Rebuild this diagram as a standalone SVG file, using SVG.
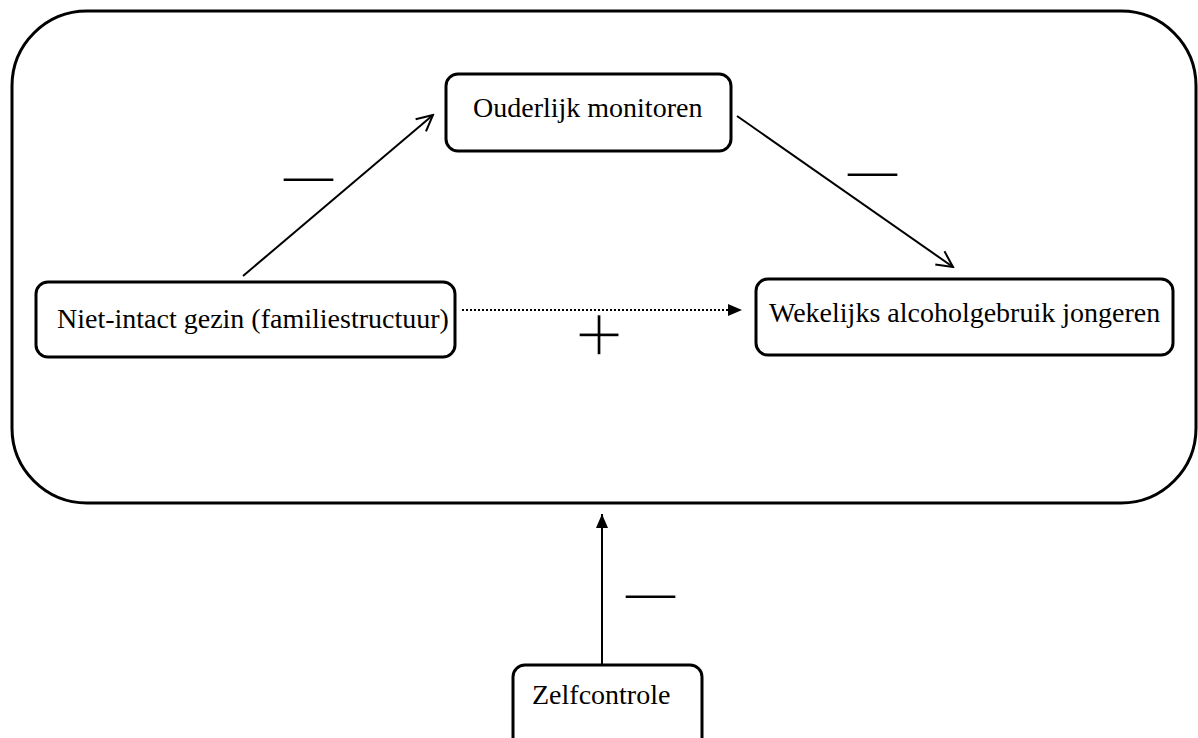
<svg xmlns="http://www.w3.org/2000/svg" width="1198" height="738" viewBox="0 0 1198 738">
<style>
.box{fill:#fff;stroke:#000;stroke-width:3}
.lbl{font-family:"Liberation Serif","Times New Roman",serif;font-size:28px;fill:#000}
.sign{font-family:"Liberation Serif","Times New Roman",serif;fill:#000}
.con{stroke:#000;stroke-width:2;fill:none}
</style>
<defs>
<marker id="open" markerUnits="userSpaceOnUse" viewBox="0 0 20 20" refX="18" refY="10" markerWidth="20" markerHeight="20" orient="auto">
<path d="M2,2 L18,10 L2,18" fill="none" stroke="#000" stroke-width="2"/>
</marker>
<marker id="solid" markerUnits="userSpaceOnUse" viewBox="0 0 14 14" refX="14" refY="7" markerWidth="14" markerHeight="14" orient="auto">
<path d="M0,1 L14,7 L0,13 Z" fill="#000"/>
</marker>
</defs>
<rect width="1198" height="738" fill="#fff"/>
<g id="outer"><rect class="box" x="12" y="11" width="1184" height="492" rx="75" ry="75"/></g>
<g id="connectors">
<line class="con" x1="243" y1="276" x2="433" y2="115" marker-end="url(#open)"/>
<line class="con" x1="737" y1="116" x2="953" y2="267" marker-end="url(#open)"/>
<line class="con" x1="462" y1="310" x2="742" y2="310" stroke-dasharray="2,2" marker-end="url(#solid)"/>
<line class="con" x1="602" y1="665" x2="602" y2="514" marker-end="url(#solid)"/>
</g>
<g id="labels">
<text class="sign" x="284" y="191" font-size="49">—</text>
<text class="sign" x="848" y="186" font-size="49">—</text>
<text class="sign" x="626" y="608" font-size="49">—</text>
<text class="sign" x="599" y="364" font-size="87" text-anchor="middle" stroke="#fff" stroke-width="1.6">+</text>
</g>
<g id="ouderlijk"><rect class="box" x="446" y="74" width="285" height="77" rx="12"/><text class="lbl" x="473" y="117">Ouderlijk monitoren</text></g>
<g id="niet-intact"><rect class="box" x="36" y="282" width="419" height="75" rx="12"/><text class="lbl" x="57" y="328">Niet-intact gezin (familiestructuur)</text></g>
<g id="wekelijks"><rect class="box" x="756" y="279" width="417" height="76" rx="12"/><text class="lbl" x="769" y="322">Wekelijks alcoholgebruik jongeren</text></g>
<g id="zelfcontrole"><rect class="box" x="513" y="665" width="189" height="90" rx="12"/><text class="lbl" x="532" y="704">Zelfcontrole</text></g>
</svg>
